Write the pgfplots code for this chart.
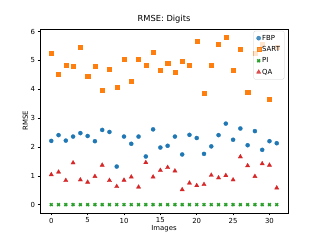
\documentclass[border=0pt]{standalone}
\usepackage{pgfplots}
\pgfplotsset{compat=1.18}
\usepackage{fontspec}
\setmainfont{DejaVu Sans}
\definecolor{cB}{HTML}{1F77B4}
\definecolor{cO}{HTML}{FF7F0E}
\definecolor{cG}{HTML}{2CA02C}
\definecolor{cR}{HTML}{D62728}
\definecolor{legedge}{HTML}{CCCCCC}
\pgfplotstableread{
i fbp sart pi qa
0 2.21 5.26 0 1.04
1 2.41 4.51 0 1.13
2 2.22 4.84 0 0.84
3 2.36 4.79 0 1.45
4 2.48 5.45 0 0.86
5 2.38 4.46 0 0.78
6 2.20 4.80 0 0.98
7 2.59 3.97 0 1.37
8 2.52 4.69 0 0.84
9 1.32 4.08 0 0.63
10 2.36 5.04 0 0.85
11 2.11 4.29 0 0.96
12 2.36 5.04 0 0.61
13 1.67 4.84 0 1.46
14 2.61 5.30 0 0.96
15 1.98 4.66 0 1.19
16 2.04 4.89 0 1.29
17 2.36 4.61 0 1.17
18 1.74 4.99 0 0.52
19 2.42 4.85 0 0.75
20 2.31 5.66 0 0.66
21 1.76 3.86 0 0.70
22 2.02 4.84 0 1.02
23 2.41 5.56 0 0.93
24 2.81 5.81 0 1.01
25 2.25 4.68 0 0.86
26 2.64 5.39 0 1.66
27 2.06 3.90 0 1.35
28 2.55 5.24 0 0.98
29 1.90 5.56 0 1.42
30 2.20 3.66 0 1.37
31 2.13 5.45 0 0.58
}\datatable
\begin{document}
\begin{tikzpicture}
\useasboundingbox (0,0) rectangle (6.4in,4.8in);
\begin{axis}[
  at={(0.8in,0.54in)}, anchor=south west,
  scale only axis, width=4.96in, height=3.68in,
  xmin=-1.55, xmax=32.55, ymin=-0.29, ymax=6.09,
  xtick={0,5,...,30}, ytick={0,1,...,6},
  tick align=outside, xtick pos=left, ytick pos=left,
  major tick length=3.5pt,
  every tick/.style={black, line width=0.8pt},
  axis line style={line width=0.8pt},
  tick label style={font=\fontsize{10}{12}\selectfont},
  /pgf/number format/assume math mode=true,
  label style={font=\fontsize{10}{12}\selectfont},
  title style={font=\fontsize{12}{14}\selectfont, yshift=-1pt},
  title={RMSE: Digits},
  xlabel={Images}, ylabel={RMSE},
  xlabel style={yshift=3pt},
  ylabel style={yshift=-3pt},
  legend style={at={(0.985,0.99)}, anchor=north east, draw=legedge, rounded corners=2pt,
    fill=white, fill opacity=0.8, draw opacity=1, text opacity=1,
    font=\fontsize{10}{12}\selectfont, row sep=3.5pt, inner xsep=4pt, inner ysep=4pt},
  legend image code/.code={\draw[mark repeat=2,mark phase=2,#1] plot coordinates {(0cm,0cm) (0.25cm,0cm) (0.8cm,0cm)};},
  legend cell align=left,
]
\addplot[only marks, mark=*, mark size=3pt, draw=cB, fill=cB] table[x=i, y=fbp]{\datatable};
\addlegendentry{FBP}
\addplot[only marks, mark=square*, mark size=2.9pt, draw=cO, fill=cO] table[x=i, y=sart]{\datatable};
\addlegendentry{SART}
\addplot[only marks, mark=x, mark size=2.8pt, draw=cG, line width=2.2pt] table[x=i, y=pi]{\datatable};
\addlegendentry{PI}
\addplot[only marks, mark=triangle*, mark size=3.6pt, draw=cR, fill=cR] table[x=i, y=qa]{\datatable};
\addlegendentry{QA}
\end{axis}
\end{tikzpicture}
\end{document}
